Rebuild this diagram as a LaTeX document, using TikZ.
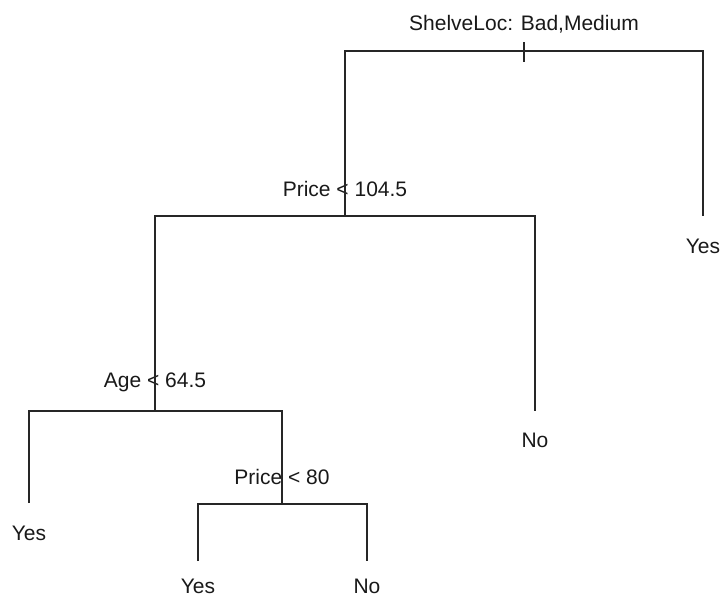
\documentclass[tikz,border=0pt]{standalone}
\usepackage{fontspec}
\setmainfont{Liberation Sans}
\begin{document}
\begin{tikzpicture}[x=1pt,y=-1pt,
  branch/.style={line width=1.6pt, draw=black!85, line cap=butt},
  lab/.style={anchor=base, inner sep=0pt, font=\fontsize{21}{24}\selectfont, text=black!90}]
\useasboundingbox (0,0) rectangle (724,598);
% coordinates of the tree
\coordinate (root) at (524,51);
\coordinate (rootL) at (345,51);
\coordinate (rootR) at (703,51);
\coordinate (tickT) at (524,42);
\coordinate (tickB) at (524,62);
\coordinate (p1) at (345,216);
\coordinate (p1L) at (155,216);
\coordinate (p1R) at (535,216);
\coordinate (yesR) at (703,216);
\coordinate (a1) at (155,411);
\coordinate (a1L) at (29,411);
\coordinate (a1R) at (282,411);
\coordinate (noM) at (535,411);
\coordinate (yesL) at (29,503);
\coordinate (p2) at (282,504);
\coordinate (p2L) at (198,504);
\coordinate (p2R) at (367,504);
\coordinate (yesB) at (198,561);
\coordinate (noB) at (367,561);
% labels
\node[lab] (lroot) at (524,30) {ShelveLoc: Bad,Medium};
\node[lab] (lp1) at (345,196) {Price < 104.5};
\node[lab] (la1) at (155,387) {Age < 64.5};
\node[lab] (lp2) at (282,484) {Price < 80};
\node[lab] (leaf1) at (703,253) {Yes};
\node[lab] (leaf2) at (535,447) {No};
\node[lab] (leaf3) at (29,540) {Yes};
\node[lab] (leaf4) at (198,593) {Yes};
\node[lab] (leaf5) at (367,593) {No};
% branches
\draw[branch] (tickT) -- (tickB);
\draw[branch] (p1) -- (rootL) -- (rootR) -- (yesR);
\draw[branch] (a1) -- (p1L) -- (p1R) -- (noM);
\draw[branch] (yesL) -- (a1L) -- (a1R) -- (p2);
\draw[branch] (yesB) -- (p2L) -- (p2R) -- (noB);
\end{tikzpicture}
\end{document}
